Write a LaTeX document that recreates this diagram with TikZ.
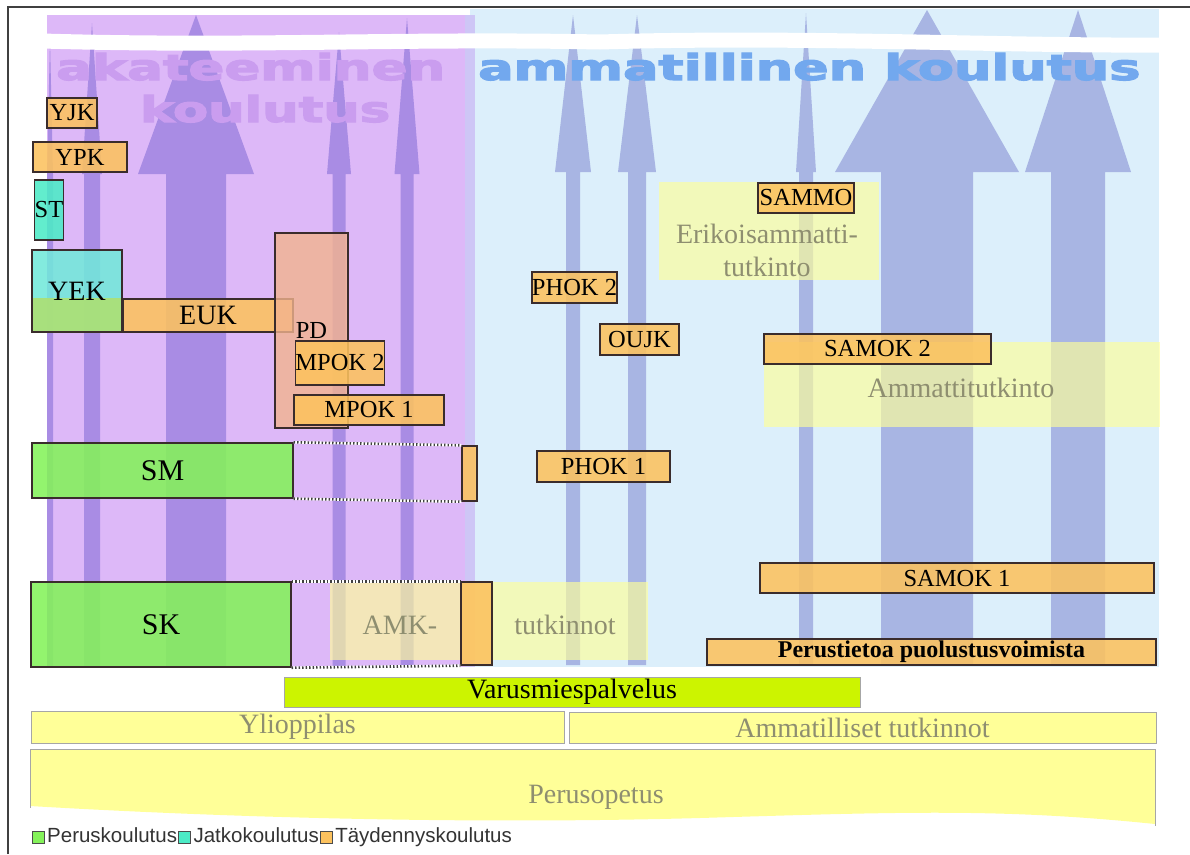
\documentclass[tikz,border=0pt]{standalone}
\usepackage{fontspec}
\setmainfont{Liberation Serif}
\setsansfont{Liberation Sans}
\newfontfamily\otsikkofont[BoldFeatures={FakeBold=3}]{DejaVu Sans}
\usepackage{graphicx}
\usetikzlibrary{positioning}

\definecolor{akabg}{HTML}{DDB8F8}
\definecolor{ammbg}{HTML}{DCEFFB}
\definecolor{rajabg}{HTML}{CEC6F6}
\definecolor{akanuoli}{HTML}{A98CE4}
\definecolor{ammnuoli}{HTML}{A8B5E3}
\definecolor{akaotsikko}{HTML}{CA9DEF}
\definecolor{ammotsikko}{HTML}{72A8EE}
\definecolor{peruscol}{HTML}{84F25A}
\definecolor{jatkocol}{HTML}{4CEBC6}
\definecolor{yekyla}{HTML}{72E8DA}
\definecolor{yekala}{HTML}{AEE070}
\definecolor{taydcol}{HTML}{FCC25E}
\definecolor{pdcol}{HTML}{F2B38E}
\definecolor{tutkcol}{HTML}{FFFF98}
\definecolor{varuscol}{HTML}{CCF400}
\definecolor{harmaateksti}{HTML}{8E8E70}
\definecolor{reuna}{HTML}{3A2C2C}

\newcommand{\pienifont}{\fontsize{24.5}{26}\selectfont}
\newcommand{\isofont}{\fontsize{28}{33}\selectfont}

\tikzset{
  tayd/.style={draw=reuna, line width=1.4pt, fill=taydcol, fill opacity=0.88, text opacity=1, inner sep=0pt, font=\pienifont},
  perus/.style={tayd, fill=peruscol, font=\fontsize{30}{33}\selectfont},
  jatko/.style={tayd, fill=jatkocol},
  tutk/.style={fill=tutkcol, fill opacity=0.65, inner sep=0pt},
  pohja/.style={draw=gray!70, line width=1pt, fill=tutkcol, inner sep=0pt, text=harmaateksti, font=\isofont},
  harmaa/.style={text=harmaateksti, font=\isofont, inner sep=0pt},
  otsikko/.style={anchor=base west, inner sep=0pt},
  selite/.style={draw=black!70, line width=1pt, minimum width=12pt, minimum height=12pt, inner sep=0pt},
  selteksti/.style={font=\sffamily\fontsize{20.5}{22}\selectfont, text=black!80, inner sep=0pt, text height=15pt, text depth=4pt},
  katko/.style={line width=2.6pt, white},
  pisteet/.style={line width=2.6pt, black!75, dash pattern=on 1.3pt off 2.2pt},
}

\begin{document}
\begin{tikzpicture}[x=1pt,y=-1pt]
\useasboundingbox (0,0) rectangle (1190,854);
\draw[black!75, line width=1.5pt] (8,854) -- (8,7) -- (1190,7);

% taustat
\fill[ammbg] (470,9) rectangle (1159,667);
\fill[akabg] (47,15) rectangle (465,667);
\fill[rajabg] (465,15) rectangle (475,667);

% nuolet
\foreach \cx/\sw/\hw/\kp in {50/3/3/40, 92/8/10/23, 196/30/58/15, 339/6.5/12/32, 407/6.5/12.5/18}
  \fill[akanuoli] ({\cx-\sw},667) -- ({\cx-\sw},174) -- ({\cx-\hw},174) -- (\cx,\kp) -- ({\cx+\hw},174) -- ({\cx+\sw},174) -- ({\cx+\sw},667) -- cycle;
\foreach \cx/\sw/\hw/\kp in {573/7/18/15, 637/9/19/15, 806/7/10/13, 927/46/92/10, 1078/27/53/10}
  \fill[ammnuoli] ({\cx-\sw},665) -- ({\cx-\sw},172) -- ({\cx-\hw},172) -- (\cx,\kp) -- ({\cx+\hw},172) -- ({\cx+\sw},172) -- ({\cx+\sw},665) -- cycle;

\draw[white, line width=15pt] (42,41) .. controls (250,47) and (400,38) .. (600,42) .. controls (800,36) and (1000,46) .. (1160,45);

% otsikot
\node[otsikko, text=akaotsikko] (akaot) at (56,80) {\resizebox{389pt}{27pt}{\otsikkofont\bfseries akateeminen}};
\node[otsikko, text=akaotsikko] (akakoul) at (140,122) {\resizebox{250pt}{27pt}{\otsikkofont\bfseries koulutus}};
\node[otsikko, text=ammotsikko] (ammot) at (478,80) {\resizebox{662pt}{27pt}{\otsikkofont\bfseries ammatillinen koulutus}};

% tutkinnot
\node[tutk, minimum width=318pt, minimum height=78pt] (amk) at (489,621) {};
\node[tutk, minimum width=220pt, minimum height=98pt] (erik) at (769,231) {};
\node[tutk, minimum width=396pt, minimum height=85pt] (ammt) at (962,384.5) {};
\node[harmaa] (amkt1) at (400,625) {AMK-};
\node[harmaa] (amkt2) at (565,625) {tutkinnot};
\node[harmaa, align=center] (erikt) at (767,250) {Erikoisammatti-\\tutkinto};
\node[harmaa] (ammtt) at (961,388) {Ammattitutkinto};

% akateeminen puoli
\node[tayd, minimum width=50pt, minimum height=30pt] (yjk) at (72,113) {YJK};
\node[tayd, minimum width=94pt, minimum height=30pt] (ypk) at (80,157) {YPK};
\node[jatko, minimum width=28pt, minimum height=60pt] (st) at (49,210) {ST};
\node[jatko, fill=yekyla, minimum width=90pt, minimum height=82pt, font=\isofont,
  path picture={\fill[yekala] ([yshift=-7pt]path picture bounding box.west) rectangle (path picture bounding box.south east);}] (yek) at (77,291) {YEK};
\node[tayd, minimum width=170pt, minimum height=33pt, font=\isofont] (euk) at (208,315.5) {EUK};
\node[tayd, fill=pdcol, fill opacity=0.8, minimum width=73pt, minimum height=195pt] (pd) at (311.5,330.5) {PD};
\node[tayd, minimum width=88pt, minimum height=44pt] (mpok2) at (340,363) {MPOK 2};
\node[tayd, minimum width=150pt, minimum height=30pt] (mpok1) at (369,410) {MPOK 1};
\node[perus, minimum width=261pt, minimum height=55pt] (sm) at (162.5,470.5) {SM};
\node[tayd, minimum width=15pt, minimum height=55pt] (smx) at (469.5,473.5) {};
\node[perus, minimum width=260pt, minimum height=85pt] (sk) at (161,624.5) {SK};
\node[tayd, minimum width=31pt, minimum height=83pt] (skx) at (476.5,623.5) {};
\foreach \a in {north,south} {
  \draw[katko] (sm.\a\space east) -- (smx.\a\space west);
  \draw[pisteet] (sm.\a\space east) -- (smx.\a\space west);
  \draw[katko] (sk.\a\space east) -- (skx.\a\space west);
  \draw[pisteet] (sk.\a\space east) -- (skx.\a\space west);
}

% ammatillinen puoli
\node[tayd, minimum width=96pt, minimum height=30pt] (sammo) at (806,198) {SAMMO};
\node[tayd, minimum width=81pt, minimum height=31pt] (phok2) at (574.5,287.5) {PHOK 2};
\node[tayd, minimum width=79pt, minimum height=31pt] (oujk) at (639.5,339.5) {OUJK};
\node[tayd, minimum width=227pt, minimum height=30pt] (samok2) at (877.5,349) {SAMOK 2};
\node[tayd, minimum width=133pt, minimum height=31pt] (phok1) at (603.5,466.5) {PHOK 1};
\node[tayd, minimum width=394pt, minimum height=30pt] (samok1) at (957,578) {SAMOK 1};
\node[tayd, minimum width=449pt, minimum height=26pt, font=\fontsize{24}{26}\selectfont\bfseries] (perustieto) at (931.5,652) {Perustietoa puolustusvoimista};

% pohjakoulutus
\node[pohja, fill=varuscol, text=black, minimum width=576pt, minimum height=30pt] (varus) at (572,692) {Varusmiespalvelus};
\node[pohja, minimum width=533pt, minimum height=32pt] (ylioppilas) at (297.5,727) {Ylioppilas};
\node[pohja, minimum width=587pt, minimum height=31pt] (ammtutk) at (862.5,727.5) {Ammatilliset tutkinnot};
\fill[tutkcol] (30,749) -- (1155,749) -- (1155,824) .. controls (1000,808) and (900,812) .. (700,818) .. controls (450,825) and (200,816) .. (30,806) -- cycle;
\draw[gray!70, line width=1pt] (30,808) -- (30,749) -- (1155,749) -- (1155,826);
\node[harmaa] (perusop) at (596,797) {Perusopetus};

% selite
\node[selite, fill=peruscol, anchor=west] (sel1) at (32,837) {};
\node[selteksti, right=2pt of sel1] (selt1) {Peruskoulutus};
\node[selite, fill=jatkocol, right=1pt of selt1] (sel2) {};
\node[selteksti, right=2pt of sel2] (selt2) {Jatkokoulutus};
\node[selite, fill=taydcol, right=1pt of selt2] (sel3) {};
\node[selteksti, right=2pt of sel3] (selt3) {Täydennyskoulutus};
\end{tikzpicture}
\end{document}
